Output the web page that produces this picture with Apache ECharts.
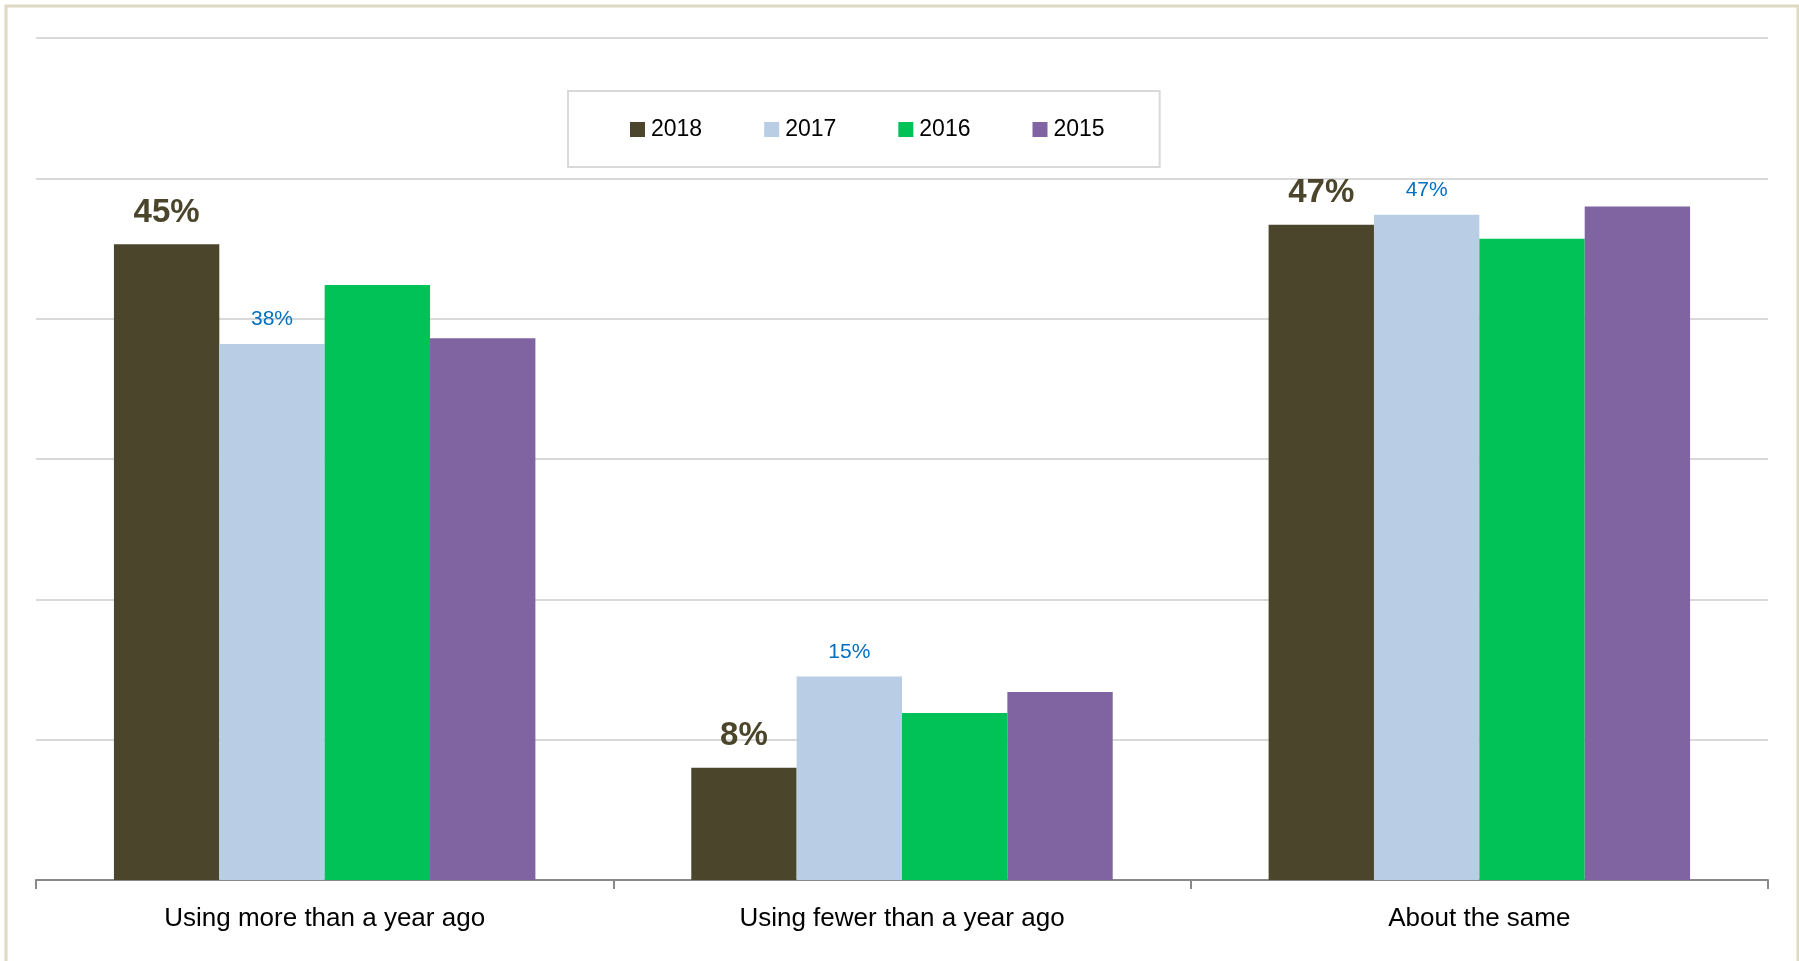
<!DOCTYPE html>
<html>
<head>
<meta charset="utf-8">
<script src="https://cdn.jsdelivr.net/npm/echarts@6/dist/echarts.min.js"></script>
<style>
html,body{margin:0;padding:0;background:#fff;}
#chart{width:1799px;height:961px;}
</style>
</head>
<body>
<div id="chart"></div>
<script>
const categories = ['Using more than a year ago', 'Using fewer than a year ago', 'About the same'];
const seriesNames = ['2018', '2017', '2016', '2015'];
const values2018 = [45.3, 8.0, 46.7];
const values2017 = [38.2, 14.5, 47.4];
const values2016 = [42.4, 11.9, 45.7];
const values2015 = [38.6, 13.4, 48.0];
const yTicks = [0, 10, 20, 30, 40, 50, 60];

const colors = ['#4B452C', '#B9CDE5', '#00C257', '#8064A2'];
const FONT = 'Liberation Sans, Arial, sans-serif';

const chart = echarts.init(document.getElementById('chart'));

function pctLabel(p) { return Math.round(p.value) + '%'; }

chart.setOption({
  animation: false,
  backgroundColor: '#ffffff',
  color: colors,
  graphic: [{
    type: 'rect',
    shape: { x: 6, y: 6, width: 1792, height: 1000 },
    style: { fill: 'none', stroke: '#DDD9C3', lineWidth: 3 },
    silent: true,
    z: -10
  }],
  legend: {
    data: seriesNames,
    left: 568,
    top: 91,
    padding: [27, 55, 26, 62],
    itemWidth: 15,
    itemHeight: 15,
    itemGap: 62,
    borderColor: '#D9D9D9',
    borderWidth: 2,
    backgroundColor: '#ffffff',
    icon: 'rect',
    textStyle: { fontFamily: FONT, fontSize: 23, color: '#000000', padding: [0, 0, 0, 1] }
  },
  grid: { left: 36, right: 31, top: 38, bottom: 81, containLabel: false },
  xAxis: {
    type: 'category',
    data: categories,
    axisLine: { lineStyle: { color: '#898989', width: 2 } },
    axisTick: { show: true, length: 9, lineStyle: { color: '#898989', width: 2 } },
    axisLabel: { fontFamily: FONT, fontSize: 26, color: '#000000', margin: 26 }
  },
  yAxis: {
    type: 'value',
    min: yTicks[0],
    max: yTicks[yTicks.length - 1],
    interval: yTicks[1] - yTicks[0],
    axisLabel: { show: false },
    axisLine: { show: false },
    axisTick: { show: false },
    splitLine: { lineStyle: { color: '#D9D9D9', width: 2 } }
  },
  series: [
    {
      name: seriesNames[0], type: 'bar', data: values2018,
      barGap: '0%', barCategoryGap: '27%',
      itemStyle: { color: colors[0] },
      label: { show: true, position: 'top', distance: 15, formatter: pctLabel,
        fontFamily: FONT, fontSize: 33, fontWeight: 'bold', color: '#4B452C' }
    },
    {
      name: seriesNames[1], type: 'bar', data: values2017,
      barGap: '0%', barCategoryGap: '27%',
      itemStyle: { color: colors[1] },
      label: { show: true, position: 'top', distance: 14, formatter: pctLabel,
        fontFamily: FONT, fontSize: 21, color: '#0070C0' }
    },
    {
      name: seriesNames[2], type: 'bar', data: values2016,
      barGap: '0%', barCategoryGap: '27%',
      itemStyle: { color: colors[2] }
    },
    {
      name: seriesNames[3], type: 'bar', data: values2015,
      barGap: '0%', barCategoryGap: '27%',
      itemStyle: { color: colors[3] }
    }
  ]
});
</script>
</body>
</html>
